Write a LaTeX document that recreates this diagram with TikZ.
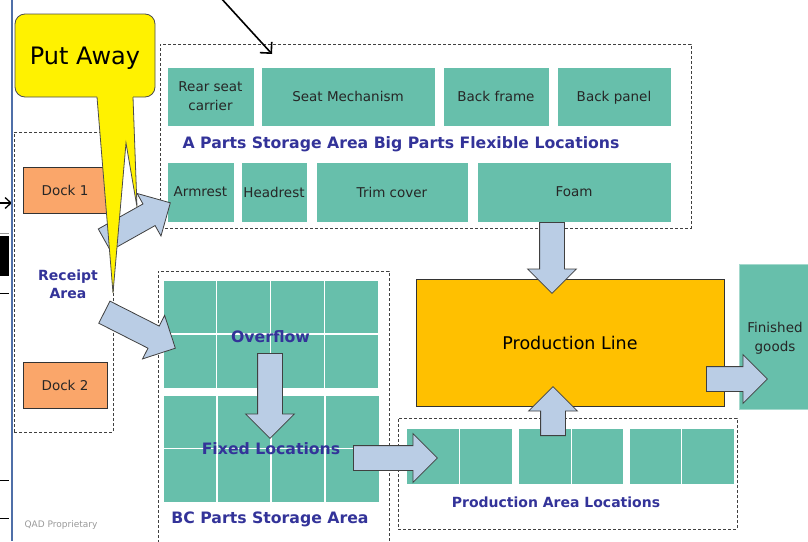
\documentclass[tikz,border=0pt]{standalone}
\usepackage{fontspec}
\setmainfont{DejaVu Sans}
\usetikzlibrary{positioning,fit,calc,shapes.arrows,arrows.meta}

\definecolor{partgreen}{RGB}{103,191,171}
\definecolor{flowblue}{RGB}{186,205,229}
\definecolor{labelblue}{RGB}{51,51,153}
\definecolor{dockorange}{RGB}{250,166,106}
\definecolor{lineorange}{RGB}{255,192,0}
\definecolor{slideblue}{RGB}{79,111,168}

\tikzset{
  part/.style={fill=partgreen,draw=white,line width=.8pt,inner sep=0pt},
  parttext/.style={text=black!85,align=center,inner sep=0pt,text depth=0pt,
    font=\fontsize{13.5}{19}\selectfont},
  area/.style={draw=black!75,line width=.7pt,dash pattern=on 3pt off 2pt,inner sep=0pt},
  dock/.style={fill=dockorange,draw=black!80,line width=.8pt,inner sep=0pt},
  arealabel/.style={text=labelblue,inner sep=1pt,align=center,
    font=\fontsize{14}{18}\selectfont\bfseries},
  biglabel/.style={arealabel,font=\fontsize{15.7}{18}\selectfont\bfseries},
  flow/.style={single arrow,draw=black!75,fill=flowblue,line width=.8pt,
    inner xsep=0pt,inner ysep=12pt,single arrow head extend=12pt,
    single arrow tip angle=90},
  pointer/.style={line width=1.6pt,-{Straight Barb[length=8pt,width=16pt]}},
}

\newcommand\flowarrow[3]{%
  \path let \p1=($(#3)-(#2)$),\n1={veclen(\x1,\y1)},\n2={atan2(\y1,\x1)} in
    node[flow,minimum height=\n1,rotate=\n2,anchor=tail] (#1) at (#2) {};}

\begin{document}
\begin{tikzpicture}[x=1pt,y=-1pt]
\useasboundingbox (0,0) rectangle (808,541);

% receipt area
\node[area,fit={(14,132) (113,432)}] (receipt) {};
\node[dock,fit={(23,167) (107,213)},label={[parttext]center:Dock 1}] (dock1) {};
\node[dock,fit={(23,362) (107,408)},label={[parttext]center:Dock 2}] (dock2) {};
\node[arealabel] (receiptlbl) at (68,284) {Receipt\\Area};

% A parts
\node[area,fit={(160,44) (691,228)}] (aarea) {};
\node[part,fit={(167,67) (254,126)},label={[parttext]center:{Rear seat\\carrier}}] (rearseat) {};
\node[part,fit={(261,67) (435,126)},label={[parttext]center:Seat Mechanism}] (seatmech) {};
\node[part,fit={(443,67) (549,126)},label={[parttext]center:Back frame}] (backframe) {};
\node[part,fit={(557,67) (671,126)},label={[parttext]center:Back panel}] (backpanel) {};
\node[biglabel] (alabel) at (401,144) {A Parts Storage Area Big Parts Flexible Locations};
\node[part,fit={(167,162) (234,222)},label={[parttext]center:Armrest}] (armrest) {};
\node[part,fit={(241,162) (307,222)},label={[parttext]center:Headrest}] (headrest) {};
\node[part,fit={(316,162) (468,222)},label={[parttext]center:Trim cover}] (trim) {};
\node[part,fit={(477,162) (671,222)},label={[parttext]center:Foam}] (foam) {};

% BC parts
\node[area,fit={(158,271) (389,560)}] (bcarea) {};
\node[part,fit={(163,280) (378,388)}] (overflow) {};
\node[part,fit={(163,395) (379,502)}] (fixed) {};
\foreach \g in {overflow,fixed}{
  \foreach \i in {1,2,3}
    \draw[white,line width=1.5pt] ($(\g.north west)!\i/4!(\g.north east)$) -- ($(\g.south west)!\i/4!(\g.south east)$);
  \draw[white,line width=1.5pt] (\g.west) -- (\g.east);
}
\node[biglabel] (overflowlbl) at ($(overflow)+(0,3)$) {Overflow};
\node[biglabel] (fixedlbl) at (fixed) {Fixed Locations};
\node[biglabel] (bclabel) at (270,519) {BC Parts Storage Area};

% production
\node[fill=lineorange,draw=black!80,line width=.8pt,inner sep=0pt,fit={(416,279) (724,406)},
  label={[parttext,text=black,font=\fontsize{17.5}{20}\selectfont]center:Production Line}] (prodline) {};
\node[part,draw=partgreen!60!white,fit={(739,264) (815,409)},
  label={[parttext,xshift=-2pt]center:{Finished\\goods}}] (finished) {};
\node[area,fit={(398,418) (737,529)}] (prodarea) {};
\foreach \l/\r [count=\k] in {406/459,459/512,518/571,571/623,629/681,681/734}
  \node[part,fit={(\l,428) (\r,484)}] (cell\k) {};
\node[arealabel] (prodlabel) at (556,502) {Production Area Locations};

% flows
\coordinate (r1) at (104,240);
\coordinate (r2) at (104,312);
\coordinate (o1) at (270,353);
\coordinate (f1) at (353,458);
\coordinate (a1) at (552,222);
\coordinate (p1) at (553,436);
\coordinate (l1) at (706,379);
\flowarrow{toarmrest}{r1}{170,203}
\flowarrow{tooverflow}{r2}{175,348}
\flowarrow{tofixed}{o1}{270,438}
\flowarrow{tocells}{f1}{437,458}
\flowarrow{fromfoam}{a1}{552,293}
\flowarrow{fromcells}{p1}{553,387}
\flowarrow{tofinished}{l1}{767,379}

% callout
\node[fill=yellow,draw=black!70,line width=.8pt,rounded corners=10pt,inner sep=0pt,fit={(15,14) (155,97)},
  label={[parttext,text=black,font=\fontsize{24}{26}\selectfont]center:Put Away}] (putaway) {};
\fill[yellow] (97.5,94) -- (97,97) -- (113,293) -- (126,143) -- (137,207) -- (133,97) -- (132.5,94) -- cycle;
\draw[black!70,line width=.8pt] (97,97) -- (113,293) -- (126,143) -- (137,207) -- (133,97);

% pointers
\coordinate (topend) at (220,-3);
\coordinate (toptip) at (272,54);
\draw[pointer] (topend) -- (toptip);
\coordinate (leftend) at (-4,203);
\coordinate (lefttip) at (12,203);
\draw[line width=1.3pt,-{Straight Barb[length=6pt,width=11pt]}] (leftend) -- (lefttip);

% edge of the slide next door
\draw[slideblue,line width=1.2pt] (12,0) -- (12,541);
\fill (0,236) rectangle (9,276);
\draw[black!40,line width=1pt] (0,233) -- (9,233);
\foreach \y in {293,480,518}
  \draw[line width=.8pt] (0,\y) -- (9,\y);
\node[text=black!40,font=\fontsize{9}{10}\selectfont,anchor=west] (qad) at (21,525) {QAD Proprietary};
\end{tikzpicture}
\end{document}
